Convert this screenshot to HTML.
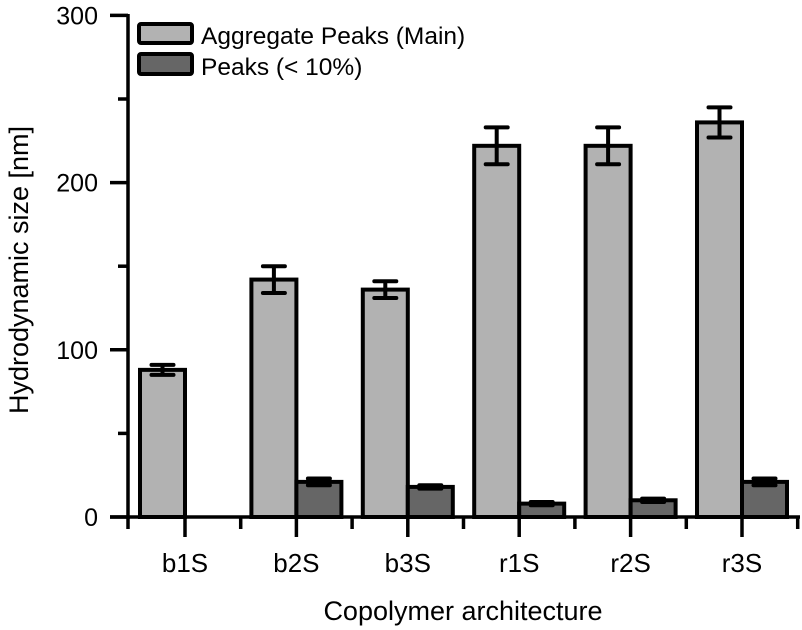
<!DOCTYPE html>
<html><head><meta charset="utf-8"><style>
body{margin:0;background:#fff}
svg{display:block;font-family:"Liberation Sans",Arial,sans-serif}
</style></head><body>
<svg id="chart" width="802" height="630"></svg>
<script>
const categories=["b1S","b2S","b3S","r1S","r2S","r3S"];
const mainValues=[88,142,136,222,222,236];
const mainErrors=[3,8,5,11,11,9];
const minorValues=[null,21,18,8,10,21];
const minorErrors=[null,2,1,1,1,2];
const yTicks=[0,100,200,300];
const NS="http://www.w3.org/2000/svg";
const svg=document.getElementById('chart');
function el(t,a,p){const e=document.createElementNS(NS,t);for(const k in a)e.setAttribute(k,a[k]);(p||svg).appendChild(e);return e;}
const y0=517,yScale=1.672;
const Y=v=>y0-v*yScale;
const X=i=>185+i*111.4;
const bw=45;
categories.forEach((c,i)=>{
  const cx=X(i);
  const b=el('rect',{x:cx-bw,y:Y(mainValues[i]),width:bw,height:y0-Y(mainValues[i]),fill:'#b2b2b2',stroke:'#000','stroke-width':4});
  
  
  const ex=cx-bw/2,t=Y(mainValues[i]+mainErrors[i]),bo=Y(mainValues[i]-mainErrors[i]);
  const g=el('path',{d:`M${ex},${t}V${bo}M${ex-11},${t}H${ex+11}M${ex-11},${bo}H${ex+11}`,stroke:'#000','stroke-width':4,fill:'none','stroke-linecap':'round'});
  
  
  if(minorValues[i]!=null){
    const m=el('rect',{x:cx,y:Y(minorValues[i]),width:bw,height:y0-Y(minorValues[i]),fill:'#666',stroke:'#000','stroke-width':4});
    
    
    const mx=cx+bw/2,mt=Y(minorValues[i]+minorErrors[i]),mb=Y(minorValues[i]-minorErrors[i]);
    const me=el('path',{d:`M${mx},${mt}V${mb}M${mx-11},${mt}H${mx+11}M${mx-11},${mb}H${mx+11}`,stroke:'#000','stroke-width':4,fill:'none','stroke-linecap':'round'});
    
    
  }
  const lb=el('text',{x:cx,y:572,'font-size':26,'text-anchor':'middle'});
  lb.textContent=c;
  
  
  el('line',{x1:cx,x2:cx,y1:y0,y2:y0+20,stroke:'#000','stroke-width':3.5});
  el('line',{x1:cx+55.7,x2:cx+55.7,y1:y0,y2:y0+12,stroke:'#000','stroke-width':3.5});
});
el('line',{x1:128,x2:128,y1:y0,y2:y0+12,stroke:'#000','stroke-width':3.5});
const ax=el('path',{d:`M110,${y0}H800M128,${y0+2}V14`,stroke:'#000','stroke-width':3.5,fill:'none'});


yTicks.forEach(v=>{
  el('line',{x1:110,x2:128,y1:Y(v),y2:Y(v),stroke:'#000','stroke-width':3.5});
  el('line',{x1:118,x2:128,y1:Y(v+50),y2:Y(v+50),stroke:'#000','stroke-width':3.5});
  const t=el('text',{x:98,y:Y(v)+9,'font-size':25,'text-anchor':'end'});
  t.textContent=v;
  
  
});
const xt=el('text',{x:463,y:620,'font-size':27,'text-anchor':'middle'});xt.textContent='Copolymer architecture';


const yt=el('text',{x:0,y:0,'font-size':27,'text-anchor':'middle',transform:'translate(28,270) rotate(-90)'});yt.textContent='Hydrodynamic size [nm]';


const lg=el('g',{});


el('rect',{x:139,y:24,width:53,height:19,fill:'#b2b2b2',stroke:'#000','stroke-width':4,rx:2},lg);
el('rect',{x:139,y:54,width:53,height:20,fill:'#666',stroke:'#000','stroke-width':4,rx:2},lg);
const l1=el('text',{x:201,y:44,'font-size':24.5},lg);l1.textContent='Aggregate Peaks (Main)';


const l2=el('text',{x:201,y:75,'font-size':24.5},lg);l2.textContent='Peaks (< 10%)';


</script>
</body></html>
